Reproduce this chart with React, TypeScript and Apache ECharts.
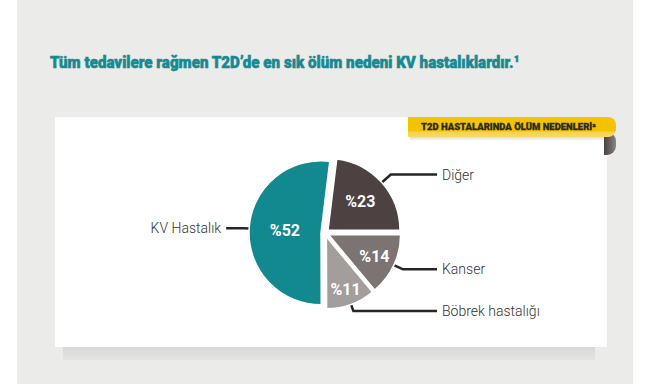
import React, { useEffect, useRef } from 'react';
import * as echarts from 'echarts';

const categories = ['Diğer', 'Kanser', 'Böbrek hastalığı', 'KV Hastalık'];
const values = [23, 14, 11, 52];
const valueLabels = ['%23', '%14', '%11', '%52'];
const titleText = 'Tüm tedavilere rağmen T2D\u2019de en sık ölüm nedeni KV hastalıklardır.¹';
const bannerText = 'T2D HASTALARINDA ÖLÜM NEDENLERİ²';

const sliceColors = ['#4b4241', '#7c7473', '#a39d9c', '#12888f'];
const insideRatios = [0.56, 0.66, 0.74, 0.46];
const lineLen = [12, 10, 7, 6];

function measure(text: string, font: string): number {
  const c = document.createElement('canvas').getContext('2d');
  if (!c) return 1;
  c.font = font;
  return c.measureText(text).width;
}

export default function App() {
  const ref = useRef<HTMLDivElement>(null);
  useEffect(() => {
    if (!ref.current) return;
    const chart = echarts.init(ref.current, undefined, { renderer: 'svg' });
    const cx = 325;
    const cy = 233;
    const R = 72;
    const startAngle = 83;
    const sel = 4;
    const rightLineEnd = 437;
    const leftLen2 = 17;
    const total = values.reduce((a, b) => a + b, 0);
    let cum = 0;
    const mids = values.map((v) => {
      const mid = ((90 - startAngle) + ((cum + v / 2) / total) * 360) * Math.PI / 180;
      cum += v;
      return mid;
    });
    const offsets = mids.map((mid, i) => {
      const extra = (insideRatios[i] - 0.5) * R;
      return [extra * Math.sin(mid), -extra * Math.cos(mid)];
    });
    const len2 = mids.map((mid, i) => {
      const s = Math.sin(mid);
      if (s < 0) return leftLen2;
      const elbow = cx + sel * s + (R + lineLen[i]) * s;
      return rightLineEnd - elbow;
    });

    const titleFont = '900 17px Roboto';
    const titleScale = 470 / measure(titleText, titleFont);
    const bannerFont = '900 9px Roboto';
    const bannerScale = 175 / measure(bannerText, bannerFont);

    const innerData = categories.map((name, i) => ({
      name,
      value: values[i],
      selected: true,
      itemStyle: { color: sliceColors[i] },
      label: { formatter: valueLabels[i] },
    }));
    const outerData = categories.map((name, i) => ({
      name,
      value: values[i],
      selected: true,
      labelLine: { length: lineLen[i], length2: len2[i] },
    }));

    chart.setOption({
      animation: false,
      backgroundColor: '#ffffff',
      graphic: [
        { type: 'rect', shape: { x: 17, y: 0, width: 616, height: 384 }, style: { fill: '#ebebe9' }, silent: true },
        {
          type: 'rect', shape: { x: 63, y: 346, width: 532, height: 14 },
          style: { fill: new echarts.graphic.LinearGradient(0, 0, 0, 1, [{ offset: 0, color: '#d6d6d4' }, { offset: 1, color: '#e4e4e2' }]) },
          silent: true,
        },
        { type: 'rect', shape: { x: 55, y: 117, width: 552, height: 230 }, style: { fill: '#ffffff' }, silent: true },
        {
          type: 'rect', shape: { x: 410, y: 137, width: 196, height: 4 },
          style: { fill: new echarts.graphic.LinearGradient(0, 0, 0, 1, [{ offset: 0, color: '#dcdcdc' }, { offset: 1, color: '#ffffff' }]) },
          silent: true,
        },
        {
          type: 'rect', shape: { x: 604, y: 132, width: 12, height: 23, r: [0, 9, 9, 0] },
          style: { fill: new echarts.graphic.LinearGradient(0, 0, 1, 0, [{ offset: 0, color: '#4a4445' }, { offset: 0.6, color: '#6d6768' }, { offset: 1, color: '#8a8586' }]) },
          silent: true,
        },
        {
          type: 'rect', shape: { x: 408, y: 117, width: 208, height: 20, r: [0, 8, 8, 0] },
          style: { fill: new echarts.graphic.LinearGradient(0, 0, 0, 1, [{ offset: 0, color: '#f4c400' }, { offset: 0.7, color: '#f3c300' }, { offset: 0.75, color: '#f6d34a' }, { offset: 1, color: '#f7da6a' }]) },
          silent: true,
        },
        {
          type: 'text', x: 421, y: 126.5, scaleX: bannerScale, silent: true,
          style: { text: bannerText, font: bannerFont, fill: '#2d2a26', stroke: '#2d2a26', lineWidth: 0.3, verticalAlign: 'middle', align: 'left' },
        },
        {
          type: 'text', x: 50, y: 62, scaleX: titleScale, silent: true,
          style: { text: titleText, font: titleFont, fill: '#168a93', stroke: '#168a93', lineWidth: 0.6, verticalAlign: 'middle', align: 'left' },
        },
      ],
      series: [
        {
          type: 'pie',
          center: [cx, cy],
          radius: R,
          startAngle,
          clockwise: true,
          silent: true,
          selectedMode: 'multiple',
          selectedOffset: sel,
          emphasis: { disabled: true },
          itemStyle: { borderColor: '#ffffff', borderWidth: 1.5 },
          label: {
            show: true,
            position: 'inside',
            color: '#ffffff',
            fontFamily: 'Roboto',
            fontWeight: 'bold',
            fontSize: 16,
          },
          labelLayout: (p: any) => ({ dx: offsets[p.dataIndex][0], dy: offsets[p.dataIndex][1] }),
          labelLine: { show: false },
          data: innerData,
          z: 3,
        },
        {
          type: 'pie',
          center: [cx, cy],
          radius: R,
          startAngle,
          clockwise: true,
          silent: true,
          selectedMode: 'multiple',
          selectedOffset: sel,
          emphasis: { disabled: true },
          itemStyle: { color: 'rgba(0,0,0,0)', borderWidth: 0 },
          label: {
            show: true,
            position: 'outside',
            distanceToLabelLine: 5,
            formatter: '{b}',
            color: '#333333',
            fontFamily: 'Roboto',
            fontWeight: 300,
            fontSize: 14,
          },
          labelLine: { show: true, smooth: false, lineStyle: { color: '#262626', width: 2.5 } },
          data: outerData,
          z: 2,
        },
      ],
    });
    return () => chart.dispose();
  }, []);
  return <div ref={ref} style={{ position: 'absolute', left: 0, top: 0, width: 650, height: 384 }} />;
}
